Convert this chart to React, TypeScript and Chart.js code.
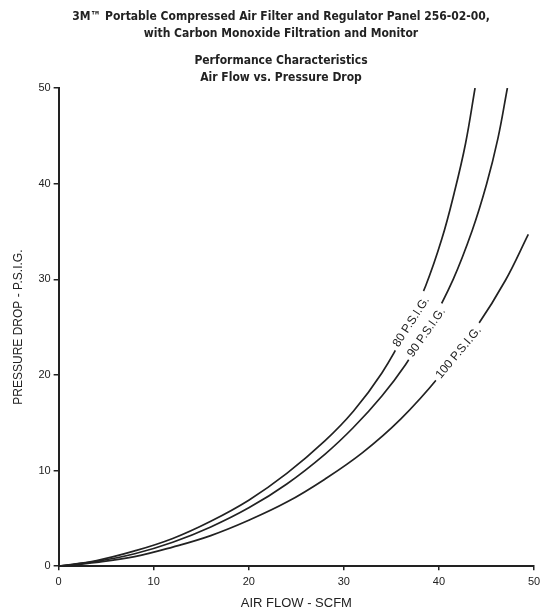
import React, { useEffect, useRef } from "react";
import { Chart, registerables } from "chart.js";

Chart.register(...registerables);

const titleLines = [
  "3M\u2122 Portable Compressed Air Filter and Regulator Panel 256-02-00,",
  "with Carbon Monoxide Filtration and Monitor",
];
const subtitleLines = ["Performance Characteristics", "Air Flow vs. Pressure Drop"];
const xAxisTitle = "AIR FLOW - SCFM";
const yAxisTitle = "PRESSURE DROP - P.S.I.G.";

const flow80 = [0, 4, 8, 12, 16, 20, 24, 28, 31, 34, 36.5, 38.6, 40.3, 41.6, 42.8, 43.8];
const drop80 = [0, 0.6, 1.6, 2.9, 4.7, 6.9, 9.7, 13.1, 16.2, 20.2, 24.6, 29.3, 34.2, 39.0, 44.2, 50];

const flow90 = [0, 4, 8, 12, 16, 20, 24, 28, 31, 34, 36.5, 39, 41.5, 43.5, 45, 46.2, 47.2];
const drop90 = [0, 0.5, 1.3, 2.5, 4.1, 6.1, 8.6, 11.7, 14.5, 17.8, 21.1, 25.1, 30.0, 35.1, 39.9, 44.7, 50];

const flow100 = [0, 4, 8, 12, 16, 20, 24, 28, 32, 36, 40, 44, 47, 49.4];
const drop100 = [0, 0.4, 1.0, 2.0, 3.2, 4.8, 6.7, 9.1, 11.9, 15.4, 19.8, 25.1, 29.9, 34.7];

const curveLabels = ["80 P.S.I.G.", "90 P.S.I.G.", "100 P.S.I.G."];
const labelFlow = [37.0, 38.6, 42.0];
const labelDrop = [25.6, 24.5, 22.4];
const labelAngle = [-57, -55, -50];

const INK = "#222222";
const FONT = "'Liberation Sans', Arial, Helvetica, sans-serif";
const TITLE_FONT = "'DejaVu Sans Condensed', 'Liberation Sans', sans-serif";

const toPoints = (xs: number[], ys: number[]) => xs.map((x, i) => ({ x, y: ys[i] }));

const headingPlugin = {
  id: "heading",
  afterDraw(chart: any) {
    const { ctx } = chart;
    ctx.save();
    ctx.font = `bold 12px ${TITLE_FONT}`;
    ctx.fillStyle = INK;
    ctx.textAlign = "center";
    ctx.textBaseline = "middle";
    const cx = 281;
    titleLines.forEach((t, i) => ctx.fillText(t, cx, 17 + i * 17));
    subtitleLines.forEach((t, i) => ctx.fillText(t, cx, 61 + i * 17));
    ctx.restore();
  },
};

const curveLabelPlugin = {
  id: "curveLabels",
  afterDatasetsDraw(chart: any) {
    const { ctx, scales } = chart;
    const xs = scales.x;
    const ys = scales.y;
    ctx.save();
    ctx.font = `12px ${FONT}`;
    ctx.textAlign = "center";
    ctx.textBaseline = "middle";
    curveLabels.forEach((t, i) => {
      const px = xs.getPixelForValue(labelFlow[i]);
      const py = ys.getPixelForValue(labelDrop[i]);
      const w = ctx.measureText(t).width;
      ctx.save();
      ctx.translate(px, py);
      ctx.rotate((labelAngle[i] * Math.PI) / 180);
      ctx.fillStyle = "#ffffff";
      ctx.fillRect(-w / 2 - 4, -7, w + 8, 14);
      ctx.fillStyle = INK;
      ctx.fillText(t, 0, 1);
      ctx.restore();
    });
    ctx.restore();
  },
};

export default function App() {
  const canvasRef = useRef<HTMLCanvasElement | null>(null);

  useEffect(() => {
    if (!canvasRef.current) return;
    const lineStyle = {
      showLine: true,
      borderColor: INK,
      borderWidth: 1.7,
      pointRadius: 0,
      pointHoverRadius: 0,
      fill: false,
      tension: 0.4,
    };
    const chart = new Chart(canvasRef.current, {
      type: "scatter",
      data: {
        datasets: [
          { label: curveLabels[0], data: toPoints(flow80, drop80), ...lineStyle },
          { label: curveLabels[1], data: toPoints(flow90, drop90), ...lineStyle },
          { label: curveLabels[2], data: toPoints(flow100, drop100), ...lineStyle },
        ],
      },
      options: {
        animation: false,
        responsive: false,
        maintainAspectRatio: false,
        layout: { padding: { left: 11, right: 6, top: 88, bottom: 3 } },
        plugins: {
          legend: { display: false },
          tooltip: { enabled: false },
          title: { display: false },
          subtitle: { display: false },
        },
        scales: {
          x: {
            type: "linear",
            min: 0,
            max: 50,
            afterFit: (s: any) => {
              s.paddingRight = 0;
            },
            border: { color: INK, width: 2 },
            grid: { drawOnChartArea: false, color: INK, tickLength: 4, lineWidth: 1.5 },
            ticks: { stepSize: 10, color: INK, font: { family: FONT, size: 11 }, padding: 5 },
            title: {
              display: true,
              text: xAxisTitle,
              color: INK,
              font: { family: FONT, size: 13 },
              padding: { top: 2, bottom: 0 },
            },
          },
          y: {
            type: "linear",
            min: 0,
            max: 50,
            border: { color: INK, width: 2 },
            grid: { drawOnChartArea: false, color: INK, tickLength: 5, lineWidth: 1.5 },
            ticks: { stepSize: 10, color: INK, font: { family: FONT, size: 11 }, padding: 3 },
            title: {
              display: true,
              text: yAxisTitle,
              color: INK,
              font: { family: FONT, size: 12 },
              padding: { top: 0, bottom: 10 },
            },
          },
        },
      },
      plugins: [curveLabelPlugin, headingPlugin],
    });
    return () => chart.destroy();
  }, []);

  return (
    <div style={{ position: "fixed", left: 0, top: 0, width: 540, height: 614, background: "#fff" }}>
      <canvas ref={canvasRef} width={540} height={614} style={{ width: 540, height: 614 }} />
    </div>
  );
}
